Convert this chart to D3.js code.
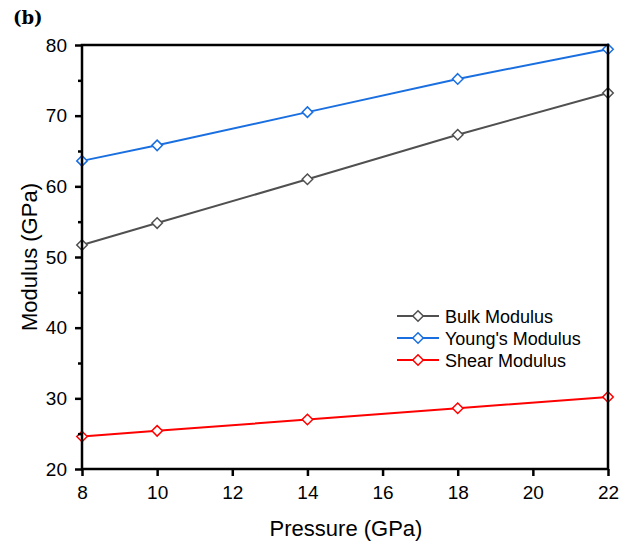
<!DOCTYPE html>
<html>
<head>
<meta charset="utf-8">
<script src="https://cdn.jsdelivr.net/npm/d3@7"></script>
<style>
  html, body { margin: 0; padding: 0; background: #fff; }
  svg { display: block; }
</style>
</head>
<body>
<svg id="chart" width="642" height="550"></svg>
<script>
// Elastic moduli versus pressure
const pressure = [8, 10, 14, 18, 22];
const bulkModulus = [51.7, 54.8, 61.0, 67.3, 73.2];
const youngsModulus = [63.6, 65.8, 70.5, 75.2, 79.4];
const shearModulus = [24.6, 25.4, 27.0, 28.6, 30.2];
const seriesNames = ["Bulk Modulus", "Young's Modulus", "Shear Modulus"];
const seriesColors = ["#505050", "#1a6fe0", "#ff0000"];
const xTicks = [8, 10, 12, 14, 16, 18, 20, 22];
const yTicks = [20, 30, 40, 50, 60, 70, 80];
const yMinorTicks = [25, 35, 45, 55, 65, 75];

const seriesValues = [bulkModulus, youngsModulus, shearModulus];

const svg = d3.select("#chart");
const margin = { left: 82, right: 608, top: 45, bottom: 469 };

const x = d3.scaleLinear().domain([8, 22]).range([margin.left, margin.right]);
const y = d3.scaleLinear().domain([20, 80]).range([margin.bottom, margin.top]);

const font = "'Liberation Sans', Arial, sans-serif";

// Series lines and open diamond markers
const line = d3.line().x(d => x(d[0])).y(d => y(d[1]));
const diamond = d3.symbol().type(d3.symbolDiamond2).size(70);

seriesValues.forEach((vals, i) => {
  const pts = pressure.map((p, j) => [p, vals[j]]);
  svg.append("path")
    .datum(pts)
    .attr("d", line)
    .attr("fill", "none")
    .attr("stroke", seriesColors[i])
    .attr("stroke-width", 2);
  svg.selectAll(null)
    .data(pts)
    .enter()
    .append("path")
    .attr("d", diamond)
    .attr("transform", d => `translate(${x(d[0])},${y(d[1])})`)
    .attr("fill", "#fff")
    .attr("stroke", seriesColors[i])
    .attr("stroke-width", 1.5);
});

// Frame
svg.append("rect")
  .attr("x", margin.left).attr("y", margin.top)
  .attr("width", margin.right - margin.left)
  .attr("height", margin.bottom - margin.top)
  .attr("fill", "none")
  .attr("stroke", "#000")
  .attr("stroke-width", 2.5);

// Axes
const xAxis = d3.axisBottom(x).tickValues(xTicks).tickSize(7).tickPadding(10).tickFormat(d3.format("d"));
const yAxis = d3.axisLeft(y).tickValues(yTicks).tickSize(7).tickPadding(8).tickFormat(d3.format("d"));
const yMinor = d3.axisLeft(y).tickValues(yMinorTicks).tickSize(4).tickFormat("");

const gx = svg.append("g").attr("transform", `translate(0,${margin.bottom})`).call(xAxis);
const gy = svg.append("g").attr("transform", `translate(${margin.left},0)`).call(yAxis);
const gym = svg.append("g").attr("transform", `translate(${margin.left},0)`).call(yMinor);

[gx, gy, gym].forEach(g => {
  g.select(".domain").remove();
  g.selectAll(".tick line").attr("stroke", "#000").attr("stroke-width", 2.5);
  g.selectAll(".tick text").attr("fill", "#000").style("font-family", font).style("font-size", "19px");
});

// Axis titles
svg.append("text")
  .attr("x", (margin.left + margin.right) / 2 + 1)
  .attr("y", 536)
  .attr("text-anchor", "middle")
  .style("font-family", font).style("font-size", "22px")
  .text("Pressure (GPa)");

svg.append("text")
  .attr("transform", `translate(37,${(margin.top + margin.bottom) / 2}) rotate(-90)`)
  .attr("text-anchor", "middle")
  .style("font-family", font).style("font-size", "22px")
  .text("Modulus (GPa)");

// Panel label
svg.append("text")
  .attr("x", 13).attr("y", 24)
  .style("font-family", "'DejaVu Serif', 'Liberation Serif', serif")
  .style("font-weight", "bold").style("font-size", "18px")
  .text("(b)");

// Legend
const legend = svg.append("g").attr("transform", "translate(397,316)");
seriesNames.forEach((name, i) => {
  const g = legend.append("g").attr("transform", `translate(0,${i * 22})`);
  g.append("line").attr("x1", 0).attr("x2", 42).attr("y1", 0).attr("y2", 0)
    .attr("stroke", seriesColors[i]).attr("stroke-width", 2);
  g.append("path").attr("d", diamond).attr("transform", "translate(21,0)")
    .attr("fill", "#fff").attr("stroke", seriesColors[i]).attr("stroke-width", 1.5);
  g.append("text").attr("x", 48).attr("y", 6.5)
    .style("font-family", font).style("font-size", "18px")
    .text(name);
});
</script>
</body>
</html>
